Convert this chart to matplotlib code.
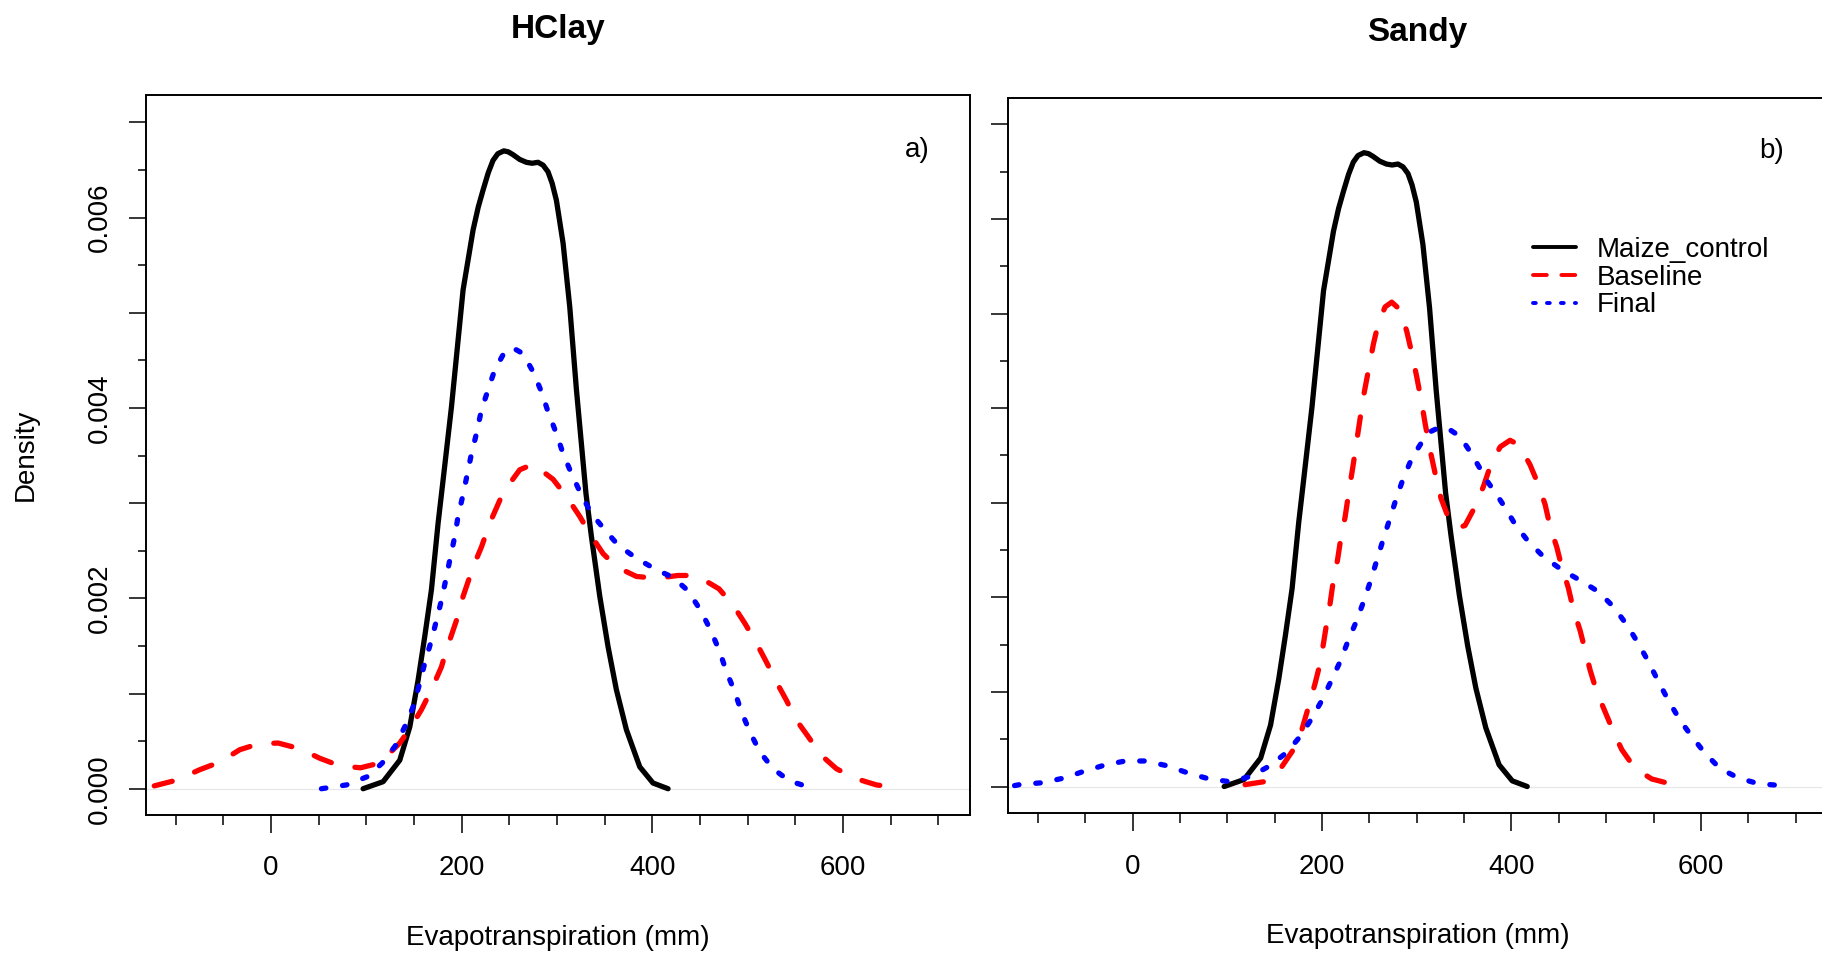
import numpy as np
import matplotlib
matplotlib.use("Agg")
import matplotlib.pyplot as plt
from matplotlib.lines import Line2D
from matplotlib.ticker import FixedLocator, FuncFormatter

plt.rcParams['font.family'] = ['Liberation Sans', 'DejaVu Sans']

# density curves (x in mm, y = density)
maize_x = [96.7, 117.7, 135.2, 145.7, 154.4, 161.4, 168.4, 175.4, 180.6, 189.4, 201.6,
           212.1, 217.5, 222.6, 228, 233.0, 238, 244.3, 249, 254, 261, 268, 274, 280.2,
           285.5, 290.7, 295, 299.5, 306.5, 313.5, 320.5, 330.5, 336.2, 345, 353.7,
           362.4, 372.9, 386.9, 400.8, 416.6]
maize_y = [0, 0.000074, 0.0003, 0.00065, 0.00114, 0.0016, 0.00209, 0.00279, 0.00324,
           0.00401, 0.00524, 0.00587, 0.00611, 0.00629, 0.00647, 0.0066, 0.00667, 0.0067,
           0.00669, 0.00666, 0.00661, 0.00658, 0.00657, 0.00658, 0.00655, 0.00648,
           0.00636, 0.00618, 0.00573, 0.00506, 0.00419, 0.0031, 0.00265, 0.00202,
           0.00149, 0.00104, 0.00062, 0.00023, 0.00006, 0]

hclay_base_x = [-122.3, -99, -74.6, -53.6, -32.6, -13.4, 7.6, 30.3, 51.3, 72.3, 94, 114.2,
                135.2, 145.7, 157.9, 168.4, 178.9, 184.2, 194.7, 201.6, 212.1, 220.9,
                229.6, 240.1, 247.1, 261, 275, 296, 310, 324, 334.5, 348.4, 362.4, 383.4,
                404.4, 427, 439.3, 449.8, 470, 484.7, 497, 509.3, 519.8, 530.3, 540.7,
                551.2, 563.4, 577.4, 593.2, 612.4, 635.1, 657.8]
hclay_base_y = [0.00003, 0.00009, 0.0002, 0.00028, 0.00041, 0.00047, 0.00048, 0.00042,
                0.00032, 0.00024, 0.00022, 0.00027, 0.00048, 0.00063, 0.00083, 0.00104,
                0.00128, 0.00146, 0.00177, 0.00202, 0.00233, 0.00254, 0.00279, 0.00303,
                0.00316, 0.00335, 0.00341, 0.00325, 0.00307, 0.00286, 0.00268, 0.00247,
                0.00233, 0.00223, 0.00221, 0.00224, 0.00224, 0.00222, 0.0021, 0.00193,
                0.00174, 0.00153, 0.00133, 0.00112, 0.00093, 0.00072, 0.00055, 0.00035,
                0.00021, 0.00011, 0.00004, 0.00001]

hclay_final_x = [53, 79.3, 102, 116.8, 130.5, 140.4, 149.2, 156.2, 161.4, 168.4, 173.7,
                 178.9, 184.2, 187.6, 192.9, 196.3, 201.6, 210.4, 215.6, 220.9, 227.8,
                 234.8, 245.3, 254, 264.5, 275, 283.8, 290.7, 299.5, 306.5, 315.3, 325,
                 336.2, 350.2, 364.1, 383.4, 404.4, 421.8, 437.5, 451, 461.5, 470.8,
                 477.8, 486.5, 493.5, 502.3, 512.7, 526.7, 544.2, 567]
hclay_final_y = [0, 0.00004, 0.00013, 0.00027, 0.00045, 0.00065, 0.00086, 0.00111,
                 0.00132, 0.00156, 0.00177, 0.00198, 0.00223, 0.0024, 0.00265, 0.00286,
                 0.00309, 0.00352, 0.00373, 0.00398, 0.00419, 0.0044, 0.00459, 0.00463,
                 0.00457, 0.00438, 0.00417, 0.00396, 0.00373, 0.00352, 0.00331, 0.0031,
                 0.00289, 0.00272, 0.00256, 0.00242, 0.0023, 0.00222, 0.00208, 0.00187,
                 0.00166, 0.00144, 0.00123, 0.00102, 0.00081, 0.0006, 0.00039, 0.00021,
                 0.00008, 0.00001]

sandy_base_x = [118.8, 138.2, 157.6, 169.8, 178.7, 185.7, 192.7, 198, 201.5, 205, 208.6,
                212, 216.3, 219.8, 224.4, 227.5, 233.2, 238.4, 243.7, 249, 254.3, 259.5,
                266.6, 273.6, 282.4, 289.5, 294.8, 300, 305.3, 308.8, 314, 319.4, 325.5,
                333.4, 343, 351, 361.6, 370.3, 377.4, 388, 398.5, 408, 419.6, 428.4,
                435.5, 440.7, 447.8, 453.1, 460, 465.3, 472.4, 477.7, 483, 490, 498.8,
                507.6, 516.4, 530.4, 548, 570.9]
sandy_base_y = [0.00002, 0.00005, 0.00021, 0.00039, 0.0006, 0.00084, 0.00109, 0.0013,
                0.00151, 0.00173, 0.00194, 0.00218, 0.00239, 0.00262, 0.00285, 0.00306,
                0.00342, 0.00377, 0.00412, 0.0044, 0.00468, 0.0049, 0.00507, 0.00512,
                0.00504, 0.00481, 0.00458, 0.00433, 0.00405, 0.00384, 0.00356, 0.00331,
                0.00305, 0.00284, 0.00273, 0.00276, 0.00296, 0.00317, 0.00338, 0.00359,
                0.00366, 0.00361, 0.0034, 0.00319, 0.00298, 0.00275, 0.00253, 0.00232,
                0.0021, 0.00187, 0.00165, 0.00144, 0.00123, 0.001, 0.00079, 0.00058,
                0.00039, 0.00019, 0.00008, 0.00002]

sandy_final_x = [-124.5, -119.2, -95.6, -72.2, -51.6, -28.2, -7.6, 13, 36.3, 59.5, 81,
                 103.5, 125.5, 145, 162.7, 177, 189.2, 199.8, 210.3, 219.1, 227.9, 236,
                 243.7, 250.8, 257.8, 264.8, 271.9, 278.5, 285.9, 294.8, 305.3, 314.1,
                 324.6, 335.2, 345.7, 356.3, 366.9, 375.6, 382.7, 392.5, 404.5, 417.8,
                 433.7, 453.1, 472.4, 491.7, 507.6, 521.7, 534, 544.5, 555, 565.6, 577.9,
                 590.3, 604.3, 620.2, 639.5, 660.6, 685.3]
sandy_final_y = [0.00001, 0.00002, 0.00004, 0.00009, 0.00016, 0.00023, 0.00027, 0.00027,
                 0.00022, 0.00014, 0.00008, 0.00005, 0.00011, 0.00022, 0.00036, 0.00053,
                 0.00072, 0.00091, 0.00113, 0.00132, 0.00155, 0.00174, 0.00195, 0.00216,
                 0.00239, 0.00262, 0.00284, 0.00305, 0.00326, 0.00347, 0.00364, 0.00375,
                 0.0038, 0.00377, 0.0037, 0.00354, 0.00336, 0.00321, 0.00311, 0.00296,
                 0.00276, 0.00259, 0.00243, 0.00229, 0.00218, 0.00206, 0.0019, 0.00171,
                 0.00151, 0.00132, 0.00111, 0.00091, 0.0007, 0.00053, 0.00035, 0.00019,
                 0.00009, 0.00003, 0.00001]

panel_titles = ['HClay', 'Sandy']
panel_tags = ['a)', 'b)']
series_labels = ['Maize_control', 'Baseline', 'Final']
x_major = [0, 200, 400, 600]
x_minor = np.arange(-100, 701, 50)
y_major = np.arange(0, 0.0071, 0.001)
y_minor = np.arange(0.0005, 0.0066, 0.001)

W, H = 1822, 955
fig = plt.figure(figsize=(W / 100, H / 100), dpi=100)

# axes boxes in pixels: left, top, right, bottom
boxes = [(146, 95, 969.7, 815), (1008.4, 98.3, 1827, 813.3)]
ylims = [(-0.000276, 0.007287), (-0.000283, 0.007275)]

LW = 3.8
styles = [dict(color='black', lw=LW, ls='-', solid_capstyle='round', solid_joinstyle='round'),
          dict(color='red', lw=LW, ls=(0, (3.5, 4.6)), dash_capstyle='round',
               dash_joinstyle='round'),
          dict(color='blue', lw=LW, ls=(0, (0.85, 3.2)), dash_capstyle='round',
               dash_joinstyle='round')]

data = [[(maize_x, maize_y), (hclay_base_x, hclay_base_y), (hclay_final_x, hclay_final_y)],
        [(maize_x, maize_y), (sandy_base_x, sandy_base_y), (sandy_final_x, sandy_final_y)]]

axes = []
for i in range(2):
    l, t, r, b = boxes[i]
    ax = fig.add_axes([l / W, 1 - b / H, (r - l) / W, (b - t) / H])
    ax.axhline(0, color='#e6e6e6', lw=0.8, zorder=0)
    for (xs, ys), st in zip(data[i], styles):
        ax.plot(xs, ys, **st)
    ax.set_xlim(-131, 733)
    ax.set_ylim(*ylims[i])

    ax.xaxis.set_major_locator(FixedLocator(x_major))
    ax.xaxis.set_minor_locator(FixedLocator(x_minor))
    ax.yaxis.set_major_locator(FixedLocator(y_major))
    ax.yaxis.set_minor_locator(FixedLocator(y_minor))
    ax.tick_params(axis='x', which='major', length=13, width=1.1, pad=16, labelsize=20)
    ax.tick_params(axis='x', which='minor', length=7, width=1.1)
    ax.tick_params(axis='y', which='major', length=12, width=1.1, pad=12, labelsize=20,
                   labelrotation=90)
    ax.tick_params(axis='y', which='minor', length=6, width=1.1)
    if i == 0:
        ax.yaxis.set_major_formatter(FuncFormatter(
            lambda v, p: f'{v:.3f}' if round(v * 1000) % 2 == 0 else ''))
        for lbl in ax.get_yticklabels():
            lbl.set_va('center')
    else:
        ax.set_yticklabels([])
    for sp in ax.spines.values():
        sp.set_linewidth(1.4)

    cx = (l + min(r, 1827)) / 2
    fig.text(cx / W, 1 - [38, 41][i] / H, panel_titles[i], ha='center', va='baseline',
             fontsize=24, fontweight='bold')
    fig.text(cx / W, 1 - [945, 942.7][i] / H, 'Evapotranspiration (mm)', ha='center',
             va='baseline', fontsize=20)
    axes.append(ax)

fig.text(916.8 / W, 1 - 150 / H, panel_tags[0], ha='center', va='center', fontsize=20)
fig.text(1772 / W, 1 - 151 / H, panel_tags[1], ha='center', va='center', fontsize=20)
fig.text(25.6 / W, 1 - 455 / H, 'Density', rotation=90, ha='center', va='center',
         fontsize=20)

# legend handles drawn a little thinner than the curves, as in the original
LLW = 2.8
handles = [Line2D([], [], color='black', lw=LLW, solid_capstyle='round'),
           Line2D([], [], color='red', lw=LLW, ls=(0, (3.55, 3.75)), dash_capstyle='round'),
           Line2D([], [], color='blue', lw=LLW, ls=(0, (0.72, 2.87)), dash_capstyle='round')]
axes[1].legend(handles, series_labels, loc='upper left',
               bbox_to_anchor=(1533.4 / W, 1 - 237 / H), bbox_transform=fig.transFigure,
               frameon=False, fontsize=20, handlelength=1.52, handletextpad=0.75,
               labelspacing=0.06, borderpad=0, borderaxespad=0)

fig.savefig('out.png', dpi=100)
